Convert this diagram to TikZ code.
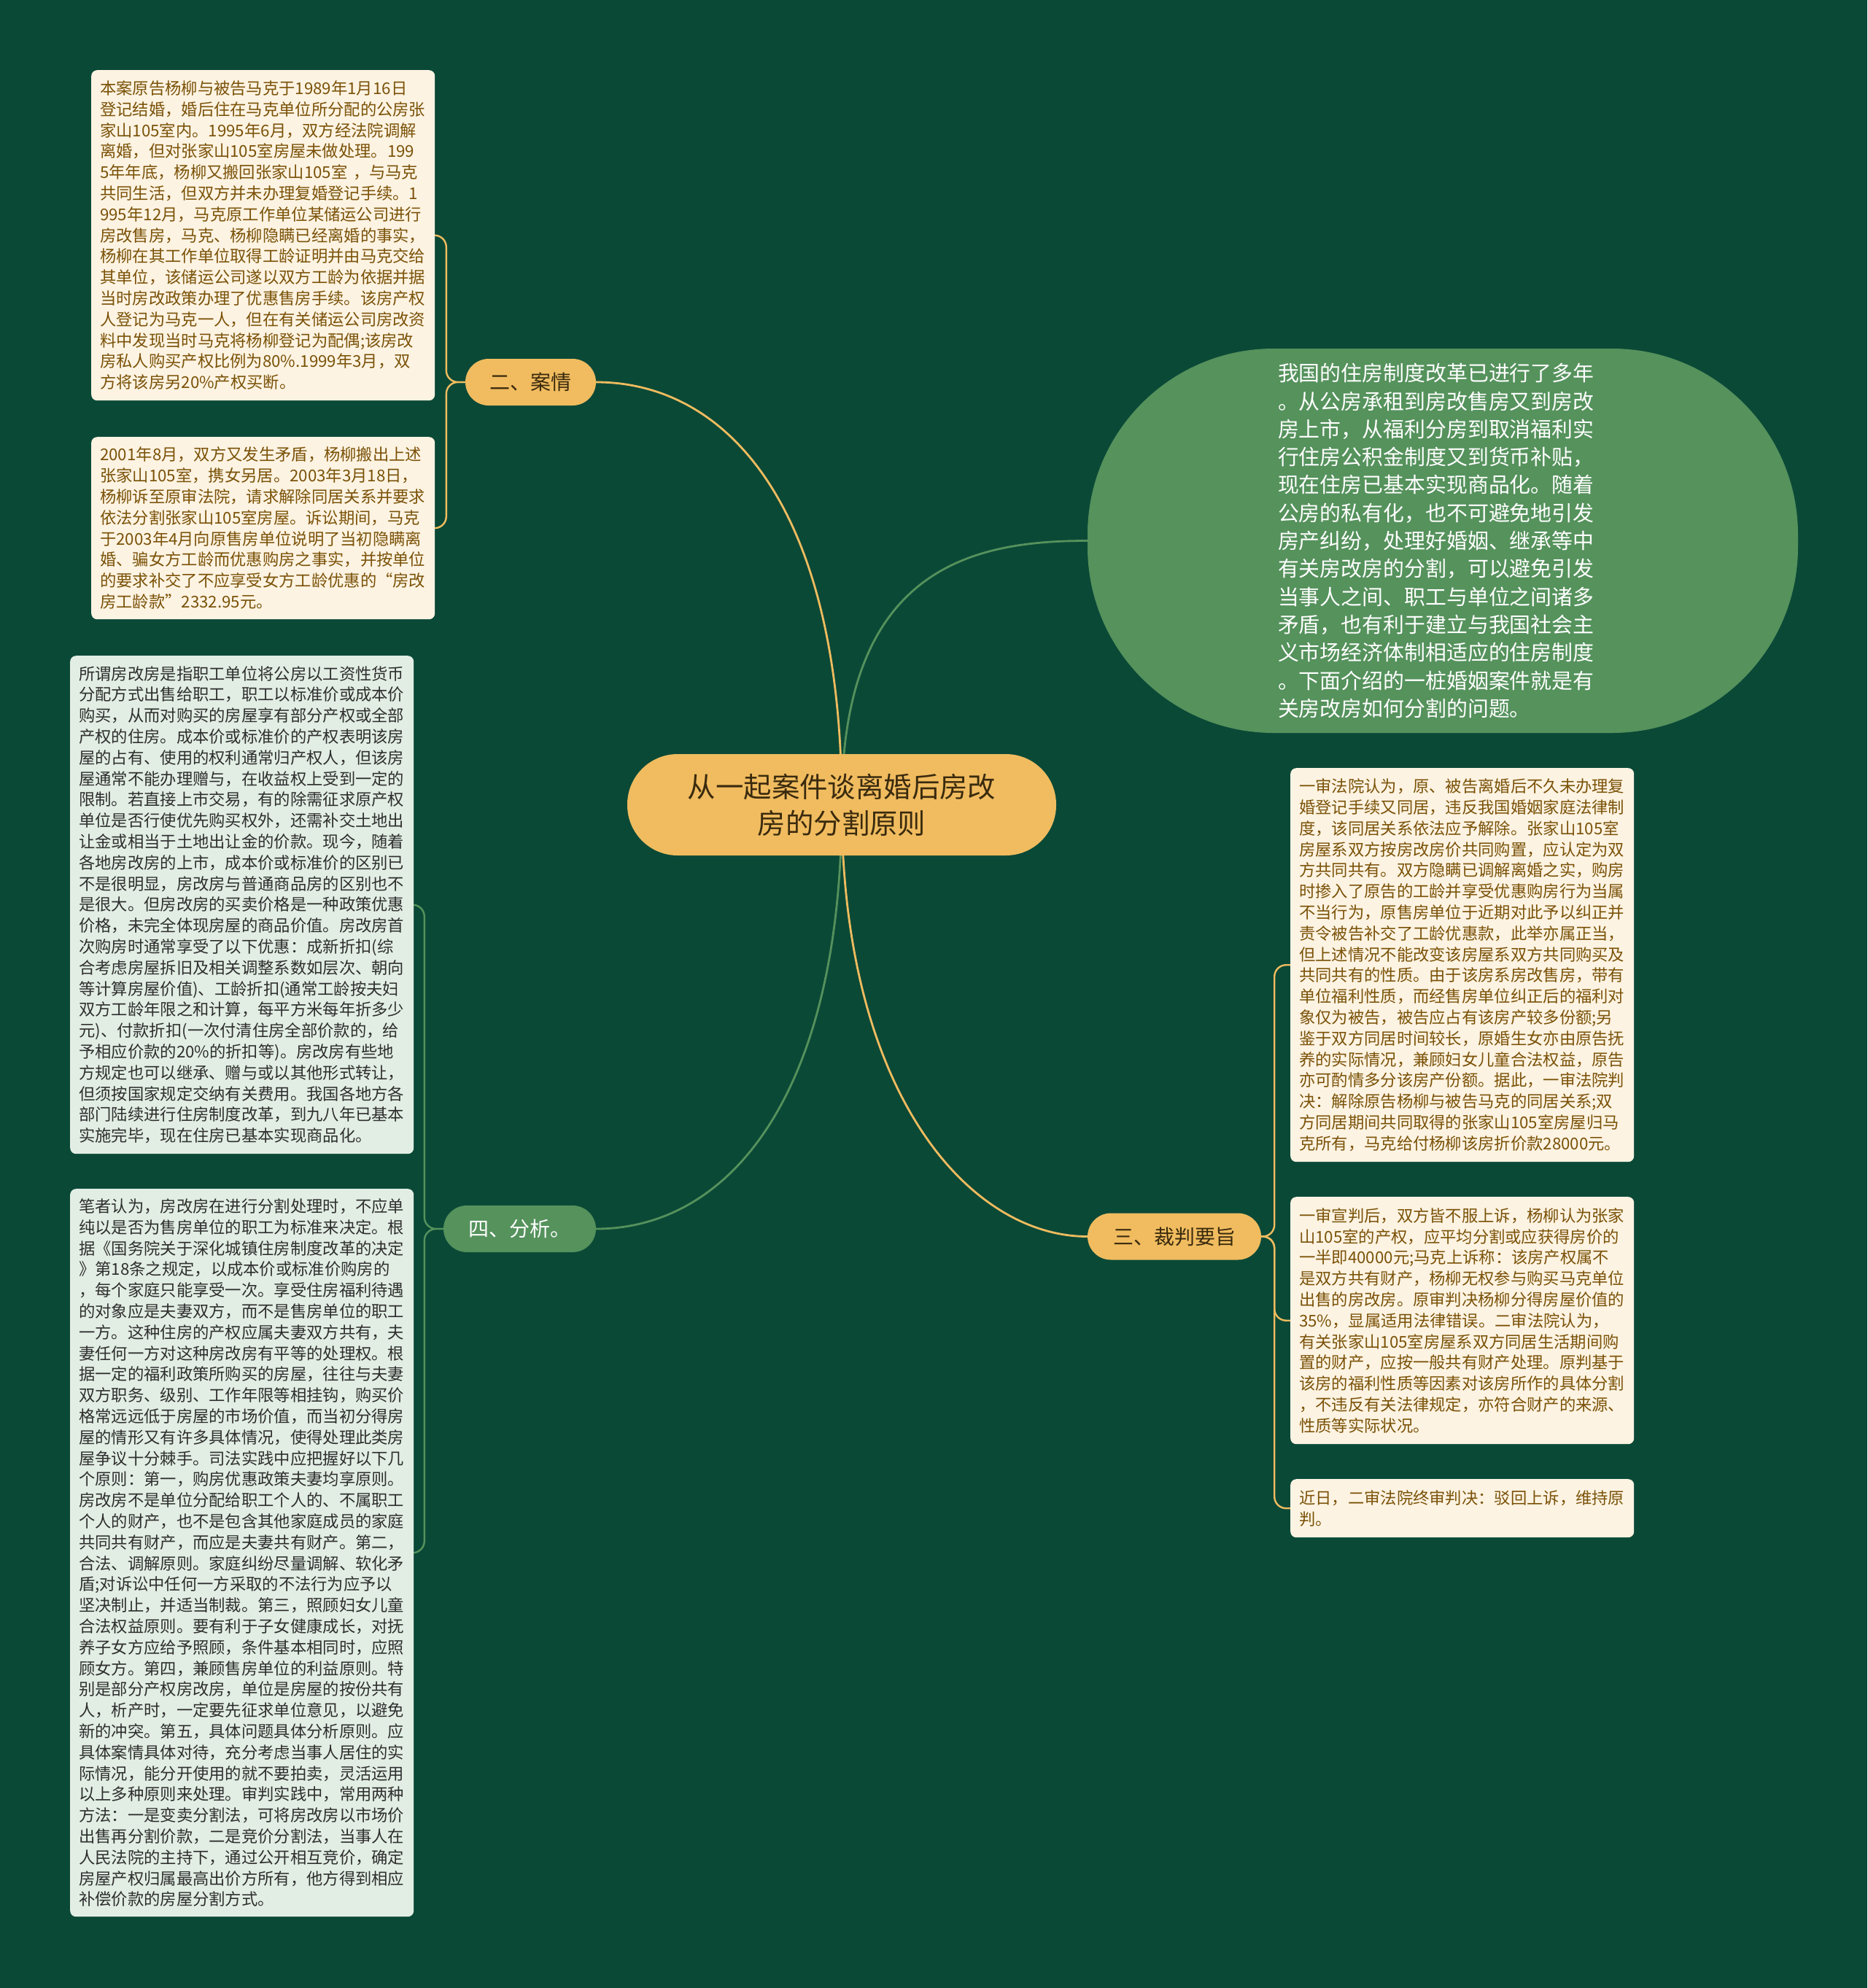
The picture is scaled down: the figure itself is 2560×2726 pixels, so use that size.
\documentclass[tikz,border=0pt]{standalone}
\usepackage{fontspec}
\setmainfont{Noto Sans CJK SC}
\usetikzlibrary{calc}
\definecolor{bgc}{HTML}{0B4937}
\definecolor{gold}{HTML}{F0BC5F}
\definecolor{midgreen}{HTML}{55925C}
\definecolor{cream}{HTML}{FDF3E2}
\definecolor{creamtext}{HTML}{7A5208}
\definecolor{palegreen}{HTML}{E2EEE4}
\definecolor{darktext}{HTML}{2E2E2E}
\definecolor{roottext}{HTML}{3A2A0E}
\pgfdeclarelayer{bgfill}
\pgfdeclarelayer{lines}
\pgfsetlayers{bgfill,lines,main}
\begin{document}
\begin{tikzpicture}[x=1pt,y=-1pt,
  leafbase/.style={rounded corners=8pt, align=left, text width=447pt, inner xsep=12pt, inner ysep=0pt, anchor=north west, font=\fontsize{22.3}{28.8}\selectfont},
  leafc/.style={leafbase, fill=cream, text=creamtext},
  leafg/.style={leafbase, fill=palegreen, text=darktext},
  rootbox/.style={fill=gold, text=roottext, rounded corners=69pt, minimum width=588pt, minimum height=139pt, inner sep=0pt, align=center, font=\fontsize{38.4}{50}\selectfont},
  branchgold/.style={fill=gold, text=roottext, rounded corners=32pt, minimum height=64pt, inner sep=0pt, font=\fontsize{28}{34}\selectfont},
  branchgreen/.style={fill=midgreen, text=white, rounded corners=32pt, minimum height=64pt, inner sep=0pt, font=\fontsize{28}{34}\selectfont},
  introbox/.style={fill=midgreen, text=white, rounded corners=255pt, minimum width=974pt, minimum height=527pt, inner sep=0pt, align=left, text width=452pt, font=\fontsize{28.9}{38.3}\selectfont},
  goldline/.style={draw=gold, line width=2.8pt},
  greenline/.style={draw=midgreen, line width=2.8pt},
  goldthin/.style={draw=gold, line width=2.4pt, rounded corners=16pt},
  greenthin/.style={draw=midgreen, line width=2.4pt, rounded corners=16pt}
]
\begin{pgfonlayer}{bgfill}
\fill[bgc] (0,0) rectangle (2560,2726);
\end{pgfonlayer}
\useasboundingbox (0,0) rectangle (2560,2726);

% root
\node[rootbox] (root) at (1154,1103.5) {从一起案件谈离婚后房改\\房的分割原则};

% branches
\node[branchgold, minimum width=179pt] (case) at (727.5,524) {二、案情};
\node[branchgreen, minimum width=209pt] (ana) at (712.5,1685) {四、分析。};
\node[branchgold, minimum width=238pt] (judge) at (1610,1695.5) {三、裁判要旨};

% intro
\node[introbox] (intro) at (1978,741.5) {我国的住房制度改革已进行了多年\\。从公房承租到房改售房又到房改\\房上市，从福利分房到取消福利实\\行住房公积金制度又到货币补贴，\\现在住房已基本实现商品化。随着\\公房的私有化，也不可避免地引发\\房产纠纷，处理好婚姻、继承等中\\有关房改房的分割，可以避免引发\\当事人之间、职工与单位之间诸多\\矛盾，也有利于建立与我国社会主\\义市场经济体制相适应的住房制度\\。下面介绍的一桩婚姻案件就是有\\关房改房如何分割的问题。};

% case leaves
\node[leafc, minimum height=453pt] (b1) at (125,96) {本案原告杨柳与被告马克于1989年1月16日\\登记结婚，婚后住在马克单位所分配的公房张\\家山105室内。1995年6月，双方经法院调解\\离婚，但对张家山105室房屋未做处理。199\\5年年底，杨柳又搬回张家山105室 ，与马克\\共同生活，但双方并未办理复婚登记手续。1\\995年12月，马克原工作单位某储运公司进行\\房改售房，马克、杨柳隐瞒已经离婚的事实，\\杨柳在其工作单位取得工龄证明并由马克交给\\其单位，该储运公司遂以双方工龄为依据并据\\当时房改政策办理了优惠售房手续。该房产权\\人登记为马克一人，但在有关储运公司房改资\\料中发现当时马克将杨柳登记为配偶;该房改\\房私人购买产权比例为80\%.1999年3月，双\\方将该房另20\%产权买断。};
\node[leafc, minimum height=250pt] (b2) at (125,599) {2001年8月，双方又发生矛盾，杨柳搬出上述\\张家山105室，携女另居。2003年3月18日，\\杨柳诉至原审法院，请求解除同居关系并要求\\依法分割张家山105室房屋。诉讼期间，马克\\于2003年4月向原售房单位说明了当初隐瞒离\\婚、骗女方工龄而优惠购房之事实，并按单位\\的要求补交了不应享受女方工龄优惠的“房改\\房工龄款”2332.95元。};

% analysis leaves
\node[leafg, minimum height=683pt] (b3) at (96,899) {所谓房改房是指职工单位将公房以工资性货币\\分配方式出售给职工，职工以标准价或成本价\\购买，从而对购买的房屋享有部分产权或全部\\产权的住房。成本价或标准价的产权表明该房\\屋的占有、使用的权利通常归产权人，但该房\\屋通常不能办理赠与，在收益权上受到一定的\\限制。若直接上市交易，有的除需征求原产权\\单位是否行使优先购买权外，还需补交土地出\\让金或相当于土地出让金的价款。现今，随着\\各地房改房的上市，成本价或标准价的区别已\\不是很明显，房改房与普通商品房的区别也不\\是很大。但房改房的买卖价格是一种政策优惠\\价格，未完全体现房屋的商品价值。房改房首\\次购房时通常享受了以下优惠：成新折扣(综\\合考虑房屋拆旧及相关调整系数如层次、朝向\\等计算房屋价值)、工龄折扣(通常工龄按夫妇\\双方工龄年限之和计算，每平方米每年折多少\\元)、付款折扣(一次付清住房全部价款的，给\\予相应价款的20\%的折扣等)。房改房有些地\\方规定也可以继承、赠与或以其他形式转让，\\但须按国家规定交纳有关费用。我国各地方各\\部门陆续进行住房制度改革，到九八年已基本\\实施完毕，现在住房已基本实现商品化。};
\node[leafg, minimum height=998pt] (b4) at (96,1630) {笔者认为，房改房在进行分割处理时，不应单\\纯以是否为售房单位的职工为标准来决定。根\\据《国务院关于深化城镇住房制度改革的决定\\》第18条之规定，以成本价或标准价购房的\\，每个家庭只能享受一次。享受住房福利待遇\\的对象应是夫妻双方，而不是售房单位的职工\\一方。这种住房的产权应属夫妻双方共有，夫\\妻任何一方对这种房改房有平等的处理权。根\\据一定的福利政策所购买的房屋，往往与夫妻\\双方职务、级别、工作年限等相挂钩，购买价\\格常远远低于房屋的市场价值，而当初分得房\\屋的情形又有许多具体情况，使得处理此类房\\屋争议十分棘手。司法实践中应把握好以下几\\个原则：第一，购房优惠政策夫妻均享原则。\\房改房不是单位分配给职工个人的、不属职工\\个人的财产，也不是包含其他家庭成员的家庭\\共同共有财产，而应是夫妻共有财产。第二，\\合法、调解原则。家庭纠纷尽量调解、软化矛\\盾;对诉讼中任何一方采取的不法行为应予以\\坚决制止，并适当制裁。第三，照顾妇女儿童\\合法权益原则。要有利于子女健康成长，对抚\\养子女方应给予照顾，条件基本相同时，应照\\顾女方。第四，兼顾售房单位的利益原则。特\\别是部分产权房改房，单位是房屋的按份共有\\人，析产时，一定要先征求单位意见，以避免\\新的冲突。第五，具体问题具体分析原则。应\\具体案情具体对待，充分考虑当事人居住的实\\际情况，能分开使用的就不要拍卖，灵活运用\\以上多种原则来处理。审判实践中，常用两种\\方法：一是变卖分割法，可将房改房以市场价\\出售再分割价款，二是竞价分割法，当事人在\\人民法院的主持下，通过公开相互竞价，确定\\房屋产权归属最高出价方所有，他方得到相应\\补偿价款的房屋分割方式。};

% judgement leaves
\node[leafc, minimum height=540pt] (b6) at (1769,1053) {一审法院认为，原、被告离婚后不久未办理复\\婚登记手续又同居，违反我国婚姻家庭法律制\\度，该同居关系依法应予解除。张家山105室\\房屋系双方按房改房价共同购置，应认定为双\\方共同共有。双方隐瞒已调解离婚之实，购房\\时掺入了原告的工龄并享受优惠购房行为当属\\不当行为，原售房单位于近期对此予以纠正并\\责令被告补交了工龄优惠款，此举亦属正当，\\但上述情况不能改变该房屋系双方共同购买及\\共同共有的性质。由于该房系房改售房，带有\\单位福利性质，而经售房单位纠正后的福利对\\象仅为被告，被告应占有该房产较多份额;另\\鉴于双方同居时间较长，原婚生女亦由原告抚\\养的实际情况，兼顾妇女儿童合法权益，原告\\亦可酌情多分该房产份额。据此，一审法院判\\决：解除原告杨柳与被告马克的同居关系;双\\方同居期间共同取得的张家山105室房屋归马\\克所有，马克给付杨柳该房折价款28000元。};
\node[leafc, minimum height=339pt] (b7) at (1769,1641) {一审宣判后，双方皆不服上诉，杨柳认为张家\\山105室的产权，应平均分割或应获得房价的\\一半即40000元;马克上诉称：该房产权属不\\是双方共有财产，杨柳无权参与购买马克单位\\出售的房改房。原审判决杨柳分得房屋价值的\\35\%，显属适用法律错误。二审法院认为，\\有关张家山105室房屋系双方同居生活期间购\\置的财产，应按一般共有财产处理。原判基于\\该房的福利性质等因素对该房所作的具体分割\\，不违反有关法律规定，亦符合财产的来源、\\性质等实际状况。};
\node[leafc, minimum height=80pt] (b8) at (1769,2028) {近日，二审法院终审判决：驳回上诉，维持原\\判。};

% connectors
\begin{pgfonlayer}{lines}
\draw[goldline] (root.center) .. controls +(0,-403) and +(183,0) .. (case.east);
\draw[greenline] (root.center) .. controls +(0,-323) and +(-161,0) .. (intro.west);
\draw[greenline] (root.center) .. controls +(0,397) and +(183,0) .. (ana.east);
\draw[goldline] (root.center) .. controls +(0,397) and +(-161,0) .. (judge.west);

\draw[goldthin] (case.west) -- ++(-26,0) |- (b1.east);
\draw[goldthin] (case.west) -- ++(-26,0) |- (b2.east);
\draw[greenthin] (ana.west) -- ++(-26,0) |- (b3.east);
\draw[greenthin] (ana.west) -- ++(-26,0) |- (b4.east);
\draw[goldthin] (judge.east) -- ++(18,0) |- (b6.west);
\draw[goldthin] (judge.east) -- ++(18,0) |- (b7.west);
\draw[goldthin] (judge.east) -- ++(18,0) |- (b8.west);
\end{pgfonlayer}
\end{tikzpicture}
\end{document}
